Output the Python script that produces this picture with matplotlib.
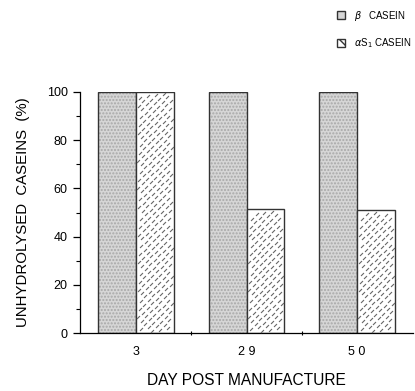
import numpy as np
import matplotlib
matplotlib.use("Agg")
import matplotlib.pyplot as plt
from matplotlib.patches import Patch
from matplotlib.path import Path
from matplotlib.ticker import MultipleLocator

plt.rcParams["font.family"] = ["Liberation Sans", "DejaVu Sans"]

days = ["3", "2 9", "5 0"]
beta_casein = [100, 100, 100]
alpha_s1_casein = [100, 51.5, 51]

BAR_W = 0.344
STIPPLE = "#d6d6d6"

fig = plt.figure(figsize=(4.15, 3.91), dpi=100)
ax = fig.add_axes([0.193, 0.148, 0.802, 0.617])

x = np.arange(len(days))
beta_bars = ax.bar(x, beta_casein, width=-BAR_W, align="edge", facecolor=STIPPLE,
                   edgecolor="#333333", linewidth=1.0, hatch=".....", zorder=2)
for b in beta_bars:
    b._hatch_color = (0.66, 0.66, 0.66, 1.0)
alpha_bars = ax.bar(x, alpha_s1_casein, width=BAR_W, align="edge", facecolor="white",
                    edgecolor="#333333", linewidth=1.0, zorder=2)

ax.set_xlim(-0.507, 2.507)
ax.set_ylim(0, 100)

# dashed texture of the alpha-s1 bars: short "/" strokes on a skewed lattice
dash = Path([(-1, -1), (1, 1)], [Path.MOVETO, Path.LINETO])
px_x = 110.5   # pixels per x unit
px_y = 2.41    # pixels per y unit
a = np.array([3.4, -3.4])   # down-right neighbour, pixels
c = np.array([4.6, 4.6])    # up-right neighbour, pixels
for b in alpha_bars:
    x0, w, h = b.get_x(), b.get_width(), b.get_height()
    W, H = w * px_x, h * px_y
    pts = []
    for i in range(-80, 80):
        for j in range(-80, 80):
            p = i * a + j * c
            if 2.0 < p[0] < W - 2.0 and 2.0 < p[1] < H - 2.0:
                pts.append((x0 + p[0] / px_x, p[1] / px_y))
    pts = np.array(pts)
    ax.scatter(pts[:, 0], pts[:, 1], marker=dash, s=4.5, linewidths=0.8,
               color="#666666", zorder=3, clip_path=b, clip_on=True)

for s in ["top", "right"]:
    ax.spines[s].set_visible(False)
ax.spines["left"].set_linewidth(0.9)
ax.spines["bottom"].set_linewidth(0.9)

ax.yaxis.set_major_locator(MultipleLocator(20))
ax.yaxis.set_minor_locator(MultipleLocator(10))
ax.tick_params(axis="y", which="major", length=5, width=0.9, labelsize=9, pad=4)
ax.tick_params(axis="y", which="minor", length=3, width=0.8)

ax.set_xticks(x)
ax.set_xticklabels(days)
ax.set_xticks([0.5, 1.5], minor=True)
ax.tick_params(axis="x", which="major", length=0, labelsize=9, pad=9)
ax.tick_params(axis="x", which="minor", length=3, width=0.8, direction="inout")

ax.set_ylabel("UNHYDROLYSED  CASEINS  (%)", fontsize=10.8, labelpad=12)
ax.set_xlabel("DAY POST MANUFACTURE", fontsize=11.2, labelpad=11)

handles = [
    Patch(facecolor=STIPPLE, edgecolor="#333333", linewidth=1.0),
    Patch(facecolor="white", edgecolor="#333333", linewidth=1.0, hatch="\\\\"),
]
labels = [r"$\it{\beta}$   CASEIN", r"$\alpha$S$_1$ CASEIN"]
fig.legend(handles, labels, loc="upper left", bbox_to_anchor=(0.79, 1.0),
           frameon=False, fontsize=7, handlelength=0.9, handleheight=0.9,
           handletextpad=0.9, labelspacing=1.4)

fig.savefig("out.png", dpi=100)
